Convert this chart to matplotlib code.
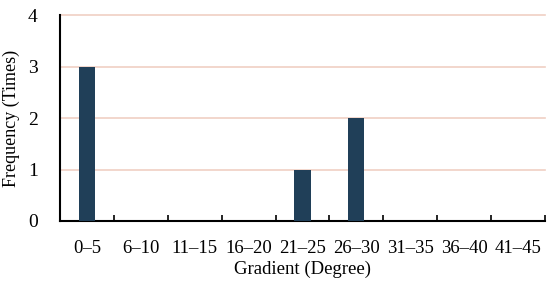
import matplotlib
matplotlib.use("Agg")
import matplotlib.pyplot as plt
import numpy as np

categories = ["0–5", "6–10", "11–15", "16–20", "21–25", "26–30", "31–35", "36–40", "41–45"]
values = [3, 0, 0, 0, 1, 2, 0, 0, 0]
yticks = [0, 1, 2, 3, 4]

plt.rcParams['font.family'] = ['Liberation Serif', 'DejaVu Serif']

fig = plt.figure(figsize=(5.5, 2.9), dpi=100)
ax = fig.add_axes([0.109, 0.238, 0.882, 0.710])

x = np.arange(len(categories))
ax.bar(x, values, width=0.3, color="#203f58", zorder=3)

ax.set_xlim(-0.5, len(categories) - 0.5)
ax.set_ylim(0, 4)
ax.set_yticks(yticks)
ax.yaxis.grid(True, color="#f0d0c4", linewidth=1.2, zorder=0)
for gl in ax.get_ygridlines():
    gl.set_clip_on(False)
ax.tick_params(axis='y', length=0, labelsize=14, pad=16)

ax.set_xticks(x)
ax.set_xticklabels(categories)
ax.tick_params(axis='x', which='major', length=0, labelsize=13.5, pad=14)
ax.set_xticks(np.arange(len(categories) + 1) - 0.5, minor=True)
ax.tick_params(axis='x', which='minor', direction='in', length=4, width=1.2)

for s in ['top', 'right']:
    ax.spines[s].set_visible(False)
for s in ['left', 'bottom']:
    ax.spines[s].set_linewidth(1.5)
    ax.spines[s].set_color('black')

ax.set_xlabel("Gradient (Degree)", fontsize=13.5, labelpad=2)
ax.set_ylabel("Frequency (Times)", fontsize=13, labelpad=6)

fig.savefig("out.png", dpi=100)
